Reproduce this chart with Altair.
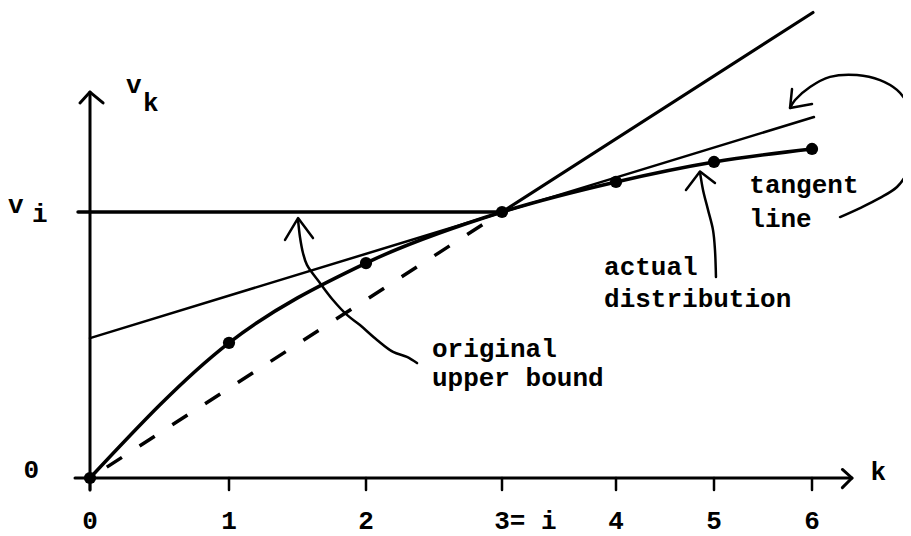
import altair as alt
import pandas as pd

# ---- data (k = index on the horizontal axis, v = value, v_i = 1) ----
k_ticks = [0, 1, 2, 3, 4, 5, 6]
tick_labels = ["0", "1", "2", "3= i", "4", "5", "6"]
tick_pixels = [82, 221, 358, 494, 608, 706, 804]   # hand-drawn, uneven tick spacing

v_actual = [0, 0.508, 0.808, 1.0, 1.113, 1.188, 1.237]

# straight lines: (k, v) end points
tangent_k = [0, 6.02]
tangent_v = [0.526, 1.357]
ray_dash_k = [0, 3]
ray_dash_v = [0, 1]
ray_solid_k = [3, 6.01]
ray_solid_v = [1, 1.75]
bound_k = [-0.086, 3]
bound_v = [1, 1]

# axes
yaxis_k = [0, 0]
yaxis_v = [-0.045, 1.451]
yhead_k = [-0.072, 0, 0.094]
yhead_v = [1.41, 1.451, 1.41]
xaxis_k = [-0.108, 6.408]
xaxis_v = [0, 0]
xhead_k = [6.31, 6.408, 6.31]
xhead_v = [0.032, 0, -0.036]

# hand-drawn annotation arrows
arr1_k = [1.504, 1.518, 1.540, 1.569, 1.664, 1.759, 1.861, 1.956, 2.081, 2.199, 2.301, 2.375]
arr1_v = [0.970, 0.906, 0.846, 0.801, 0.733, 0.669, 0.613, 0.575, 0.519, 0.474, 0.455, 0.432]
head1_k = [1.409, 1.504, 1.613]
head1_v = [0.895, 0.977, 0.902]

arr2_k = [4.857, 4.888, 4.939, 4.990, 5.010, 5.020]
arr2_v = [1.150, 1.083, 1.008, 0.932, 0.857, 0.756]
head2_k = [4.714, 4.857, 5.010]
head2_v = [1.083, 1.152, 1.109]

arr3_k = [6.286, 6.490, 6.694, 6.867, 6.969, 7.020, 7.041, 6.969, 6.867, 6.694, 6.459, 6.184, 5.980, 5.827, 5.776]
arr3_v = [0.981, 1.015, 1.053, 1.094, 1.147, 1.207, 1.308, 1.410, 1.459, 1.496, 1.515, 1.508, 1.470, 1.421, 1.391]
head3_k = [5.796, 5.776, 6.0]
head3_v = [1.462, 1.391, 1.406]

# text labels (left edge k, baseline v)
text_labels = ["original", "upper bound", "actual", "distribution", "tangent", "line",
               "v", "i", "v", "k", "0", "k"]
text_k = [2.485, 2.485, 3.895, 3.895, 5.36, 5.36, -0.59, -0.417, 0.259, 0.381, -0.478, 6.597]
text_v = [0.455, 0.346, 0.763, 0.643, 1.071, 0.944, 0.996, 0.962, 1.447, 1.380, 0.0, -0.008]
tick_label_v = -0.19
tick_v = [0, -0.045]

FONT = "Liberation Mono"
INK = "#000000"

xscale = alt.Scale(domain=k_ticks, range=tick_pixels, nice=False, zero=False)
yscale = alt.Scale(domain=[0, 1], range=[470, 204], nice=False, zero=False)
X = alt.X("k:Q", scale=xscale, axis=None)
Y = alt.Y("v:Q", scale=yscale, axis=None)


def path(name, ks, vs):
    return pd.DataFrame({"seg": name, "k": ks, "v": vs, "ord": list(range(len(ks)))})


def lines(df, width, interp="linear", **kw):
    return alt.Chart(df).mark_line(
        color=INK, strokeWidth=width, interpolate=interp, strokeCap="round",
        strokeJoin="round", **kw
    ).encode(x=X, y=Y, detail="seg:N", order="ord:Q")


axes_df = pd.concat([
    path("yaxis", yaxis_k, yaxis_v), path("yhead", yhead_k, yhead_v),
    path("xaxis", xaxis_k, xaxis_v), path("xhead", xhead_k, xhead_v),
])
axes = lines(axes_df, 3)

ticks_df = pd.DataFrame({"k": k_ticks, "v": tick_v[0], "v2": tick_v[1]})
ticks = alt.Chart(ticks_df).mark_rule(color=INK, strokeWidth=2.5, strokeCap="round").encode(
    x=X, y=Y, y2="v2:Q")

bound = lines(path("bound", bound_k, bound_v), 3.5)
tangent = lines(path("tangent", tangent_k, tangent_v), 2.5)
ray_solid = lines(path("ray", ray_solid_k, ray_solid_v), 3.2)
ray_dash = alt.Chart(path("rayd", ray_dash_k, ray_dash_v)).mark_line(
    color=INK, strokeWidth=3.5, strokeDash=[18, 21], strokeDashOffset=19
).encode(x=X, y=Y, order="ord:Q")

actual = lines(path("actual", k_ticks, v_actual), 3.5, interp="monotone")
dots = alt.Chart(pd.DataFrame({"k": k_ticks, "v": v_actual})).mark_circle(
    color=INK, opacity=1, size=150).encode(x=X, y=Y)

arrows = lines(pd.concat([
    path("a1", arr1_k, arr1_v), path("a2", arr2_k, arr2_v), path("a3", arr3_k, arr3_v),
]), 2.5, interp="catmull-rom")
heads = lines(pd.concat([
    path("h1", head1_k, head1_v), path("h2", head2_k, head2_v), path("h3", head3_k, head3_v),
]), 2.5)

texts = alt.Chart(pd.DataFrame({"k": text_k, "v": text_v, "t": text_labels})).mark_text(
    font=FONT, fontSize=26, fontWeight="bold", align="left", baseline="alphabetic", color=INK
).encode(x=X, y=Y, text="t:N")

tick_texts = alt.Chart(pd.DataFrame({"k": k_ticks, "v": tick_label_v, "t": tick_labels})).mark_text(
    font=FONT, fontSize=26, fontWeight="bold", align="left", baseline="alphabetic", dx=-7.8, color=INK
).encode(x=X, y=Y, text="t:N")

chart = alt.layer(
    axes, ticks, bound, tangent, ray_solid, ray_dash, actual, dots, arrows, heads, texts, tick_texts
).properties(
    width=895, height=528, autosize=alt.AutoSizeParams(type="none"), padding=0,
    background="white"
).configure_view(stroke=None)

chart.save("out.html", embed_options={"renderer": "svg", "actions": False})
